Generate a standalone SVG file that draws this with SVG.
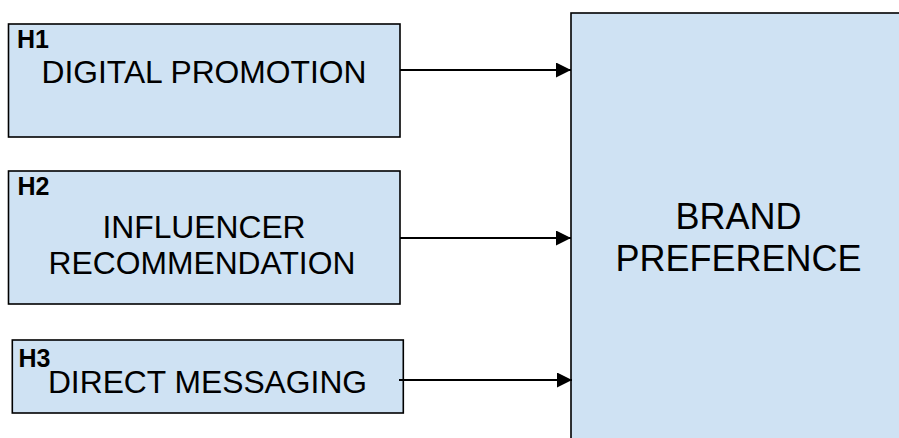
<svg xmlns="http://www.w3.org/2000/svg" width="899" height="438" viewBox="0 0 899 438">
<style>
.box{fill:#cfe2f3;stroke:#000;stroke-width:1.6}
.h{font-family:"Liberation Sans",Arial,sans-serif;font-weight:bold;font-size:25px;fill:#000}
.t{font-family:"Liberation Sans",Arial,sans-serif;font-size:31.8px;fill:#000;text-anchor:middle}
.big{font-family:"Liberation Sans",Arial,sans-serif;font-size:36px;fill:#000;text-anchor:middle}
.edge{stroke:#000;stroke-width:2;fill:none;marker-end:url(#arr)}
</style>
<defs>
<marker id="arr" markerUnits="userSpaceOnUse" markerWidth="16" markerHeight="16" refX="15" refY="7.5" orient="auto">
<path d="M0,0 L15,7.5 L0,15 Z" fill="#000"/>
</marker>
</defs>
<rect width="899" height="438" fill="#fff"/>
<g id="brand">
<rect class="box" x="571" y="13" width="340" height="440"/>
<text class="big" x="738.5" y="229">BRAND</text>
<text class="big" x="738.5" y="271">PREFERENCE</text>
</g>
<g id="h1">
<rect class="box" x="8.5" y="24" width="391.5" height="113"/>
<text class="h" x="17" y="48.3">H1</text>
<text class="t" x="204" y="83.3">DIGITAL PROMOTION</text>
</g>
<g id="h2">
<rect class="box" x="8.5" y="171" width="391.5" height="133"/>
<text class="h" x="17.5" y="195">H2</text>
<text class="t" x="204" y="237.5">INFLUENCER</text>
<text class="t" x="202" y="274">RECOMMENDATION</text>
</g>
<g id="h3">
<rect class="box" x="12.3" y="340" width="391" height="73"/>
<text class="h" x="18.5" y="367.3">H3</text>
<text class="t" x="207.5" y="392.7">DIRECT MESSAGING</text>
</g>
<g id="connectors">
<line class="edge" x1="400" y1="70" x2="571" y2="70"/>
<line class="edge" x1="400" y1="238" x2="571" y2="238"/>
<line class="edge" x1="399" y1="380" x2="572" y2="380"/>
</g>
</svg>
